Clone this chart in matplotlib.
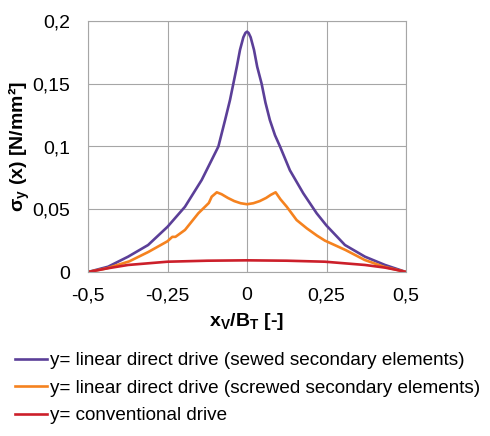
import matplotlib
matplotlib.use("Agg")
import matplotlib.pyplot as plt
from matplotlib.ticker import FuncFormatter

plt.rcParams['font.family'] = ['Liberation Sans', 'DejaVu Sans']
plt.rcParams['mathtext.fontset'] = 'custom'
plt.rcParams['mathtext.rm'] = 'Liberation Sans'
plt.rcParams['mathtext.bf'] = 'Liberation Sans:bold'

# sewed secondary elements (purple)
x_sewed = [-0.5, -0.437, -0.374, -0.311, -0.25, -0.195, -0.1425, -0.111, -0.09,
           -0.069, -0.0535, -0.043, -0.032, -0.022, -0.0115, -0.005, 0.0,
           0.005, 0.0115, 0.022, 0.032, 0.046, 0.058, 0.072, 0.088, 0.104,
           0.135, 0.177, 0.219, 0.25, 0.308, 0.371, 0.434, 0.5]
y_sewed = [0.0, 0.0042, 0.0122, 0.0215, 0.036, 0.052, 0.0733, 0.0893, 0.1,
           0.121, 0.137, 0.15, 0.1636, 0.177, 0.187, 0.1905, 0.1915,
           0.1905, 0.187, 0.177, 0.1636, 0.15, 0.135, 0.121, 0.109, 0.0999,
           0.081, 0.0627, 0.0468, 0.037, 0.0215, 0.0122, 0.0056, 0.0]

# screwed secondary elements (orange)
x_screwed = [-0.5, -0.44, -0.37, -0.31, -0.25, -0.235, -0.225, -0.195, -0.153,
             -0.132, -0.12, -0.111, -0.095, -0.08, -0.06, -0.04, -0.02, 0.0,
             0.02, 0.04, 0.06, 0.075, 0.09, 0.105, 0.125, 0.156, 0.188, 0.22,
             0.245, 0.31, 0.37, 0.43, 0.5]
y_screwed = [0.0, 0.003, 0.0085, 0.016, 0.0245, 0.028, 0.028, 0.0335, 0.0468,
             0.052, 0.055, 0.06, 0.0635, 0.062, 0.059, 0.0565, 0.0548, 0.054,
             0.0548, 0.0565, 0.059, 0.0615, 0.0635, 0.058, 0.052, 0.0414, 0.0348, 0.029,
             0.025, 0.0175, 0.0096, 0.0042, 0.0]

# conventional drive (red)
x_conv = [-0.5, -0.47, -0.437, -0.374, -0.25, -0.125, 0.0, 0.125, 0.245, 0.371, 0.434, 0.47, 0.5]
y_conv = [0.0, 0.0014, 0.003, 0.0056, 0.0082, 0.009, 0.0093, 0.009, 0.0082, 0.0056, 0.0035, 0.0017, 0.0]

labels = ["y= linear direct drive (sewed secondary elements)",
          "y= linear direct drive (screwed secondary elements)",
          "y= conventional drive"]

fig = plt.figure(figsize=(4.9, 4.36), dpi=100)
ax = fig.add_axes([88/490, 1-272/436, 318/490, 251/436])

ax.plot(x_sewed, y_sewed, color='#5b3f98', lw=1.9, label=labels[0])
ax.plot(x_screwed, y_screwed, color='#f5821f', lw=1.9, label=labels[1])
ax.plot(x_conv, y_conv, color='#cc1f2a', lw=1.9, label=labels[2])

ax.set_xlim(-0.5, 0.5)
ax.set_ylim(0, 0.2)
ax.set_xticks([-0.5, -0.25, 0, 0.25, 0.5])
ax.set_yticks([0, 0.05, 0.1, 0.15, 0.2])
comma = FuncFormatter(lambda v, p: ('%g' % v).replace('.', ','))
ax.xaxis.set_major_formatter(comma)
ax.yaxis.set_major_formatter(comma)
ax.tick_params(length=0, labelsize=14)
ax.tick_params(axis='x', pad=11)
ax.tick_params(axis='y', pad=13)
ax.grid(True, color='#a6a6a6', lw=0.8)
for s in ax.spines.values():
    s.set_color('#a6a6a6')
    s.set_linewidth(0.8)

ax.set_xlabel(r'$\mathbf{x}_\mathbf{V}\mathbf{/B}_\mathbf{T}$ [-]', fontsize=14, fontweight='bold', labelpad=5)
ax.set_ylabel(r'σ$_\mathbf{y}$ (x) [N/mm²]', fontsize=14, fontweight='bold', labelpad=0)

fig.legend(loc='upper left', bbox_to_anchor=(15/490, 1-352/436), frameon=False,
           fontsize=13.6, handlelength=1.7, handletextpad=0.15, labelspacing=0.55,
           borderpad=0, borderaxespad=0)

fig.savefig('out.png', dpi=100)
